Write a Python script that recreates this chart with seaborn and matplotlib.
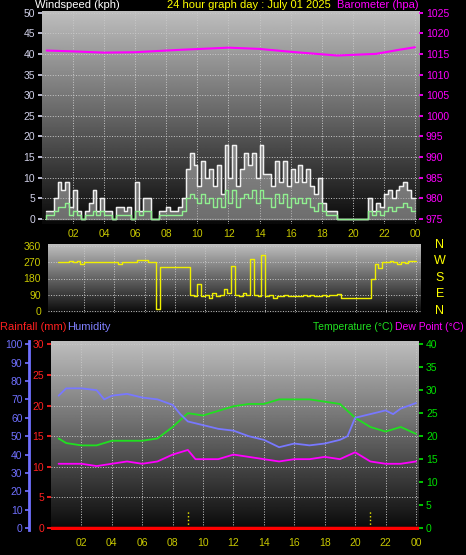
import numpy as np
import matplotlib
matplotlib.use("Agg")
import matplotlib.pyplot as plt
import seaborn as sns

sns.set_theme(style="dark")
plt.rcParams['font.family'] = ['Liberation Sans', 'DejaVu Sans']

t15 = [0.25 * (i + 1) for i in range(96)]
gust = [2,2,2,5, 9,7,9,3, 7,2,0,2, 4,7,2,5, 2,2,0,3, 3,2,3,0, 9,2,5,5, 0,0,2,2,
        3,2,2,3, 5,12,16,13, 8,14,10,12, 8,13,6,18, 10,18,8,12, 16,13,16,10, 18,11,11,8,
        14,9,14,8, 12,9,13,9, 12,8,6,10, 4,2,2,2, 0,0,0,0, 0,0,0,0, 5,2,4,3, 6,7,5,7, 8,9,7,5]
avg = [0,1,1,2, 3,3,4,1, 2,1,0,1, 1,2,1,2, 1,1,0,1, 1,1,1,0, 2,1,2,2, 0,0,1,1,
       1,1,1,1, 2,5,6,5, 4,6,4,5, 3,5,3,7, 4,7,3,5, 6,5,7,4, 7,5,5,3,
       6,4,6,3, 5,4,5,4, 5,3,2,4, 2,1,1,1, 0,0,0,0, 0,0,0,0, 2,1,2,1, 2,3,2,3, 3,4,3,2]
wdir = [270,270,270,270, 275,270,280,260, 270,270,270,270, 270,270,270,270, 270,260,270,270,
        270,270,285,285, 285,270,270,10, 245,245,245,245, 245,245,245,245, 90,80,150,80,
        90,70,100,80, 90,120,100,250, 90,80,100,90, 290,90,80,310, 80,90,70,85,
        80,90,85,80, 85,80,90,80, 90,85,80,90, 85,90,90,95, 70,70,70,70,
        70,70,70,70, 180,260,240,270, 270,280,270,260, 270,265,275,280]

baro_t = [0.3, 2, 4, 6, 9, 12, 14, 16, 19, 21.5, 23, 24]
baro = [1015.8, 1015.6, 1015.3, 1015.4, 1016.0, 1016.5, 1016.2, 1015.5, 1014.6, 1015.0, 1016.0, 1016.6]

hum_t = [0.5,1,2,3,3.5,4,5,6,7,8,8.5,9,10,11,12,13,14,15,16,17,18,19,19.5,20,21,22,22.5,23,24]
hum = [72,76,76,75,70,72,73,71,70,67,62,58,56,54,53,50,48,44,46,45,46,48,50,60,62,64,62,65,68]
tmp_t = [0.5,1,2,3,4,5,6,7,8,9,10,11,12,13,14,15,16,17,18,19,20,21,22,23,24]
tmp = [19.5,18.5,18,18,19,19,19,19.5,22,25,24.5,25.5,26.5,27,27,28,28,28,27.5,27,24,22,21,22,20.5]
dew_t = [0.5,2,3,4,5,6,7,8,9,9.5,11,12,13,14,15,16,17,18,19,20,21,22,23,24]
dew = [14,14,13.5,14,14.5,14,14.5,16,17,15,15,16,15.5,15,14.5,15,15,15.5,15,16.5,14.5,14,14,14.5]
rain_marks = [9, 21]

hours = list(range(2, 25, 2))
hour_labels = ["%02d" % (h % 24) for h in hours]

W, H = 466, 555
fig = plt.figure(figsize=(W/100, H/100), dpi=100, facecolor='black')

def axbox(l, r, t, b):
    return fig.add_axes([l/W, 1 - b/H, (r-l)/W, (b-t)/H])

grad = np.linspace(0, 1, 256).reshape(-1, 1)
FS = 7.5

def style(ax, xl, yl):
    ax.set_xlim(*xl); ax.set_ylim(*yl)
    ax.imshow(grad, extent=[xl[0], xl[1], yl[0], yl[1]], aspect='auto',
              cmap='gray', vmin=-0.05, vmax=1.35, origin='lower', zorder=0)
    ax.set_facecolor('black')
    for s in ax.spines.values():
        s.set_visible(False)
    ax.set_xticks(hours)
    ax.grid(True, color='#c8c8c8', linestyle=':', linewidth=0.7, zorder=1)
    ax.tick_params(axis='x', colors='#c8c800', labelsize=FS, length=0, pad=3)

# Top: wind
ax1 = axbox(42, 419, 10.5, 224)
style(ax1, (0, 24.26), (-1.2, 50.5))
ax1.set_yticks(range(0, 51, 5))
ax1.tick_params(axis='y', colors='#d0d0e8', labelsize=FS, length=3, pad=2)
ax1.fill_between(t15, 0, gust, step='pre', color='#b0b0b0', alpha=0.6, zorder=2)
ax1.plot(t15, gust, drawstyle='steps-pre', color='#f0f0f0', lw=1.0, zorder=3)
ax1.plot(t15, avg, drawstyle='steps-pre', color='#90f090', lw=1.0, zorder=4)
ax1.tick_params(axis='x', labelbottom=False, labeltop=False)
ax1b = ax1.twinx()
ax1b.set_ylim(975 - 1.2, 975 + 50.5)
for s in ax1b.spines.values():
    s.set_visible(False)
ax1b.set_yticks(range(975, 1026, 5))
ax1b.tick_params(axis='y', colors='#ff00ff', labelsize=FS, length=3, pad=2)
ax1b.plot(baro_t, baro, color='#ff00ff', lw=1.5, zorder=5)
ax1b.grid(False)
for h, lab in zip(hours, hour_labels):
    fig.text((42 + h*15.55)/W, 1 - 234/H, lab, color='#c8c800', fontsize=FS, ha='center', va='center')

fig.text(35/W, 1 - 5/H, "Windspeed (kph)", color='white', fontsize=8, va='center')
fig.text(249/W, 1 - 5/H, "24 hour graph day : July 01 2025", color='yellow', fontsize=8, va='center', ha='center')
fig.text(419/W, 1 - 5/H, "Barometer (hpa)", color='#ff00ff', fontsize=8, va='center', ha='right')

# Middle: wind direction
ax2 = axbox(48, 421, 244, 313)
style(ax2, (-0.4, 24.33), (-12, 372))
ax2.set_yticks([0, 90, 180, 270, 360])
ax2.tick_params(axis='y', colors='#c8c800', labelsize=FS, length=3, pad=2)
ax2.tick_params(axis='x', labelbottom=False)
ax2.plot(t15, wdir, drawstyle='steps-pre', color='#f0f000', lw=1.0, zorder=3)
for lab, y in zip("NWSEN", [245, 261, 278, 294, 311]):
    fig.text(440/W, 1 - y/H, lab, color='yellow', fontsize=9, ha='center', va='center')

# Bottom
ax3 = axbox(51, 419, 340.5, 530)
style(ax3, (0, 24.2), (-0.3, 30.6))
ax3.set_yticks(range(0, 31, 5))
ax3.tick_params(axis='y', colors='#ff2020', labelsize=FS, length=3, pad=2)
ax3.set_xticklabels(hour_labels)
ax3.tick_params(axis='x', pad=6)
ax3.plot([0, 24.2], [0, 0], color='red', lw=2.5, zorder=6)
ax3.vlines(rain_marks, 0, 2.9, colors='#f0f000', linestyles=':', lw=1, zorder=5)

ax3t = ax3.twinx()
ax3t.set_ylim(-0.4, 40.8)
for s in ax3t.spines.values():
    s.set_visible(False)
ax3t.set_yticks(range(0, 41, 5))
ax3t.tick_params(axis='y', colors='#00e000', labelsize=FS, length=3, pad=2)
ax3t.plot(tmp_t, tmp, color='#20e020', lw=1.3, zorder=5)
ax3t.plot(dew_t, dew, color='#ff00ff', lw=1.3, zorder=5)
ax3t.grid(False)

ax3h = ax3.twinx()
ax3h.set_ylim(-1, 102)
for s in ax3h.spines.values():
    s.set_visible(False)
ax3h.spines['left'].set_visible(True)
ax3h.spines['left'].set_position(('outward', 15.5))
ax3h.spines['left'].set_color('#7070ff')
ax3h.spines['left'].set_linewidth(2)
ax3h.yaxis.set_ticks_position('left')
ax3h.yaxis.set_label_position('left')
ax3h.set_yticks(range(0, 101, 10))
ax3h.tick_params(axis='y', colors='#7070ff', labelsize=FS, length=3, pad=2)
ax3h.plot(hum_t, hum, color='#7878ff', lw=1.3, zorder=5)
ax3h.grid(False)

fig.text(0/W, 1 - 327/H, "Rainfall (mm)", color='#ff2020', fontsize=8, va='center')
fig.text(67/W, 1 - 327/H, "Humidity", color='#8080ff', fontsize=8, va='center')
fig.text(313/W, 1 - 327/H, "Temperature (°C)", color='#20e020', fontsize=7.5, va='center')
fig.text(464/W, 1 - 327/H, "Dew Point (°C)", color='#ff00ff', fontsize=7.5, va='center', ha='right')

fig.savefig("out.png", dpi=100, facecolor='black')
